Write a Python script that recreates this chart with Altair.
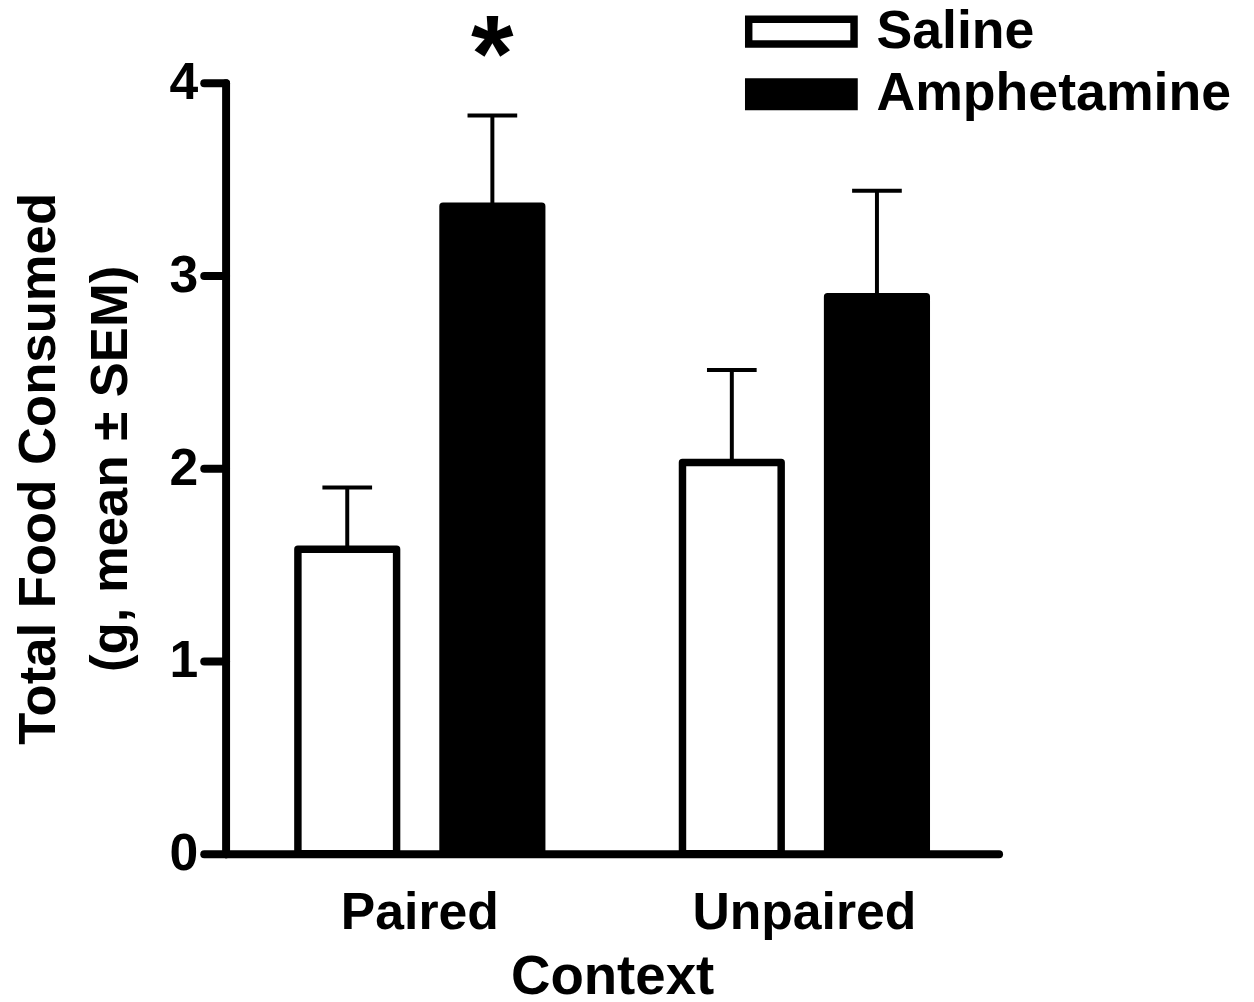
import altair as alt
import pandas as pd

# ---- data ----
contexts = ["Paired", "Unpaired"]
drugs = ["Saline", "Amphetamine"]
saline_mean = [1.58, 2.03]
saline_sem = [0.32, 0.48]
amph_mean = [3.36, 2.89]
amph_sem = [0.47, 0.55]
saline_sig = ["", ""]
amph_sig = ["*", ""]
y_ticks = [0, 1, 2, 3, 4]

rows = []
for i, c in enumerate(contexts):
    rows.append({"Context": c, "Drug": "Saline", "mean": saline_mean[i],
                 "upper": saline_mean[i] + saline_sem[i], "sig": saline_sig[i]})
    rows.append({"Context": c, "Drug": "Amphetamine", "mean": amph_mean[i],
                 "upper": amph_mean[i] + amph_sem[i], "sig": amph_sig[i]})
df = pd.DataFrame(rows)

FONT = "Liberation Sans"

x_enc = alt.X(
    "Context:N", sort=contexts,
    scale=alt.Scale(paddingInner=0.2, paddingOuter=0.105),
    axis=alt.Axis(title="Context", labelAngle=0, ticks=False, tickSize=0,
                  labelPadding=34, labelFontSize=52, titleFontSize=55,
                  titlePadding=13, labelLimit=0),
)
xoff_enc = alt.XOffset(
    "Drug:N", sort=drugs,
    scale=alt.Scale(paddingInner=0.32, paddingOuter=0.22),
)
y_scale = alt.Scale(domain=[0, 4], nice=False, zero=True)
y_axis = alt.Axis(
    values=y_ticks, format="d",
    title=["Total Food Consumed", "(g, mean ± SEM)"],
    titleFontSize=53, titleLineHeight=72, titlePadding=32,
    labelFontSize=52, labelPadding=6, tickSize=22, labelLimit=0,
)

base = alt.Chart(df)

bars = base.mark_bar(stroke="black", strokeWidth=7.5, strokeJoin="round").encode(
    x=x_enc,
    xOffset=xoff_enc,
    y=alt.Y("mean:Q", scale=y_scale, axis=y_axis),
    fill=alt.Fill(
        "Drug:N", sort=drugs,
        scale=alt.Scale(domain=drugs, range=["white", "black"]),
        legend=alt.Legend(
            title=None, orient="none", legendX=549, legendY=-82,
            direction="vertical", padding=0,
            symbolType="M-2,-0.47L2,-0.47L2,0.47L-2,0.47Z",
            symbolSize=2809, symbolStrokeColor="black", symbolStrokeWidth=7.5,
            labelFont=FONT, labelFontSize=54, labelFontWeight="bold",
            labelColor="black", labelOffset=45, rowPadding=5, labelLimit=0,
        ),
    ),
)

err = base.mark_rule(color="black", strokeWidth=4, opacity=1).encode(
    x=x_enc, xOffset=xoff_enc,
    y=alt.Y("mean:Q", scale=y_scale),
    y2="upper:Q",
)

caps = base.mark_tick(color="black", thickness=4, size=50, orient="horizontal",
                      opacity=1).encode(
    x=x_enc, xOffset=xoff_enc,
    y=alt.Y("upper:Q", scale=y_scale),
)

stars = base.mark_text(font=FONT, fontSize=110, fontWeight="bold", color="black",
                       align="center", baseline="alphabetic", dy=-25).encode(
    x=x_enc, xOffset=xoff_enc,
    y=alt.Y("upper:Q", scale=y_scale),
    text="sig:N",
)

chart = alt.layer(bars, err, caps, stars).properties(
    width=778, height=776,
    padding={"left": 219, "top": 72, "right": 249, "bottom": 170},
    autosize=alt.AutoSizeParams(type="none"),
).configure_view(stroke=None).configure_axis(
    labelFont=FONT, titleFont=FONT, labelFontWeight="bold", titleFontWeight="bold",
    labelColor="black", titleColor="black",
    domainColor="black", domainWidth=8, domainCap="round",
    tickColor="black", tickWidth=8, tickCap="round",
    grid=False,
)

chart.save("out.html", embed_options={"renderer": "svg", "actions": False})
